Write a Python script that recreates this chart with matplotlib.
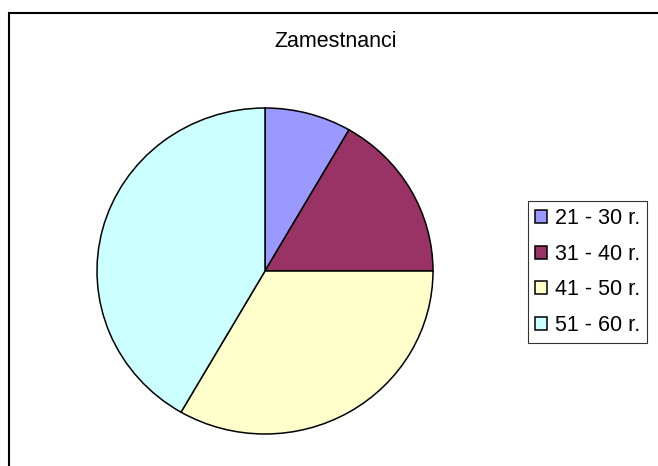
import matplotlib.pyplot as plt
from matplotlib.patches import Rectangle

plt.rcParams['font.family'] = ['Liberation Sans', 'DejaVu Sans']

labels = ['21 - 30 r.', '31 - 40 r.', '41 - 50 r.', '51 - 60 r.']
counts = [1, 2, 4, 5]
colors = ['#9999FF', '#993366', '#FFFFCC', '#CCFFFF']

fig = plt.figure(figsize=(6.58, 4.66), dpi=100)

# chart frame (cropped at right and bottom like the reference)
fig.patches.append(Rectangle((9 / 658, -0.2), 2.0, 1.2 - 12.5 / 466,
                             transform=fig.transFigure, fill=False,
                             edgecolor='black', linewidth=1.5))

ax = fig.add_axes([97 / 658, 32 / 466, 336 / 658, 326 / 466])
wedges, _ = ax.pie(counts, colors=colors, startangle=90, counterclock=False,
                   wedgeprops={'edgecolor': 'black', 'linewidth': 1.1})
ax.set_aspect('auto')
ax.set_xlim(-1.0, 1.0)
ax.set_ylim(-1.0, 1.0)

fig.text(336 / 658, 1 - 47 / 466, 'Zamestnanci', ha='center', va='baseline', fontsize=15.5)

leg = fig.legend(wedges, labels, loc='center', bbox_to_anchor=(587.5 / 658, 1 - 272 / 466),
                 fontsize=15.5, frameon=True, fancybox=False, shadow=False,
                 handlelength=0.55, handleheight=0.55, handletextpad=0.35,
                 labelspacing=0.67, borderpad=0.35, borderaxespad=0)
leg.get_frame().set_edgecolor('black')
leg.get_frame().set_linewidth(0.8)

fig.savefig('out.png', dpi=100)
